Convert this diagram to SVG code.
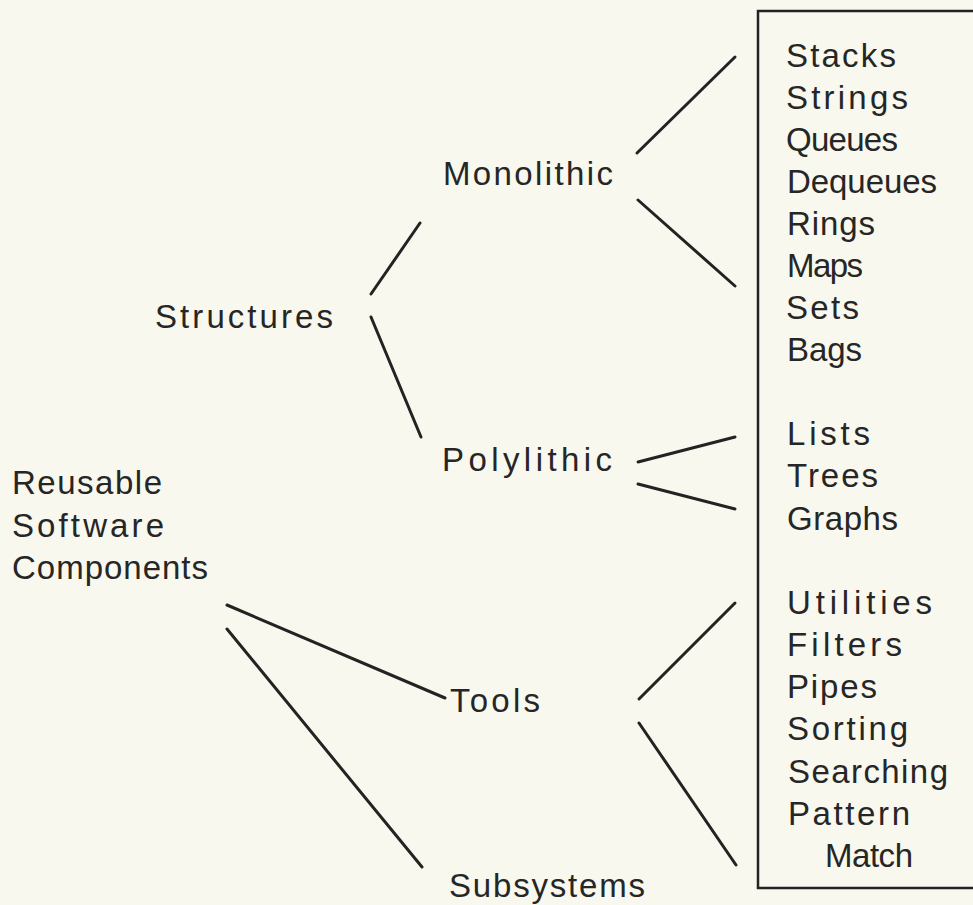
<svg xmlns="http://www.w3.org/2000/svg" width="973" height="905" viewBox="0 0 973 905">
<style>
text{font-family:"Liberation Sans",Arial,Helvetica,sans-serif;font-size:33px;fill:#262626}
.c line{stroke:#232323;stroke-width:3;stroke-linecap:round}
.box{fill:none;stroke:#232323;stroke-width:2.5}
</style>
<rect x="0" y="0" width="973" height="905" fill="#f8f8ee"/>
<g id="root"><text x="12" y="494" textLength="150" lengthAdjust="spacing">Reusable</text><text x="12" y="537" textLength="152" lengthAdjust="spacing">Software</text><text x="12" y="579" textLength="196" lengthAdjust="spacing">Components</text></g>
<g id="structures"><text x="155" y="328" textLength="178" lengthAdjust="spacing">Structures</text></g>
<g id="monolithic"><text x="443" y="185" textLength="170" lengthAdjust="spacing">Monolithic</text></g>
<g id="polylithic"><text x="442" y="471" textLength="170" lengthAdjust="spacing">Polylithic</text></g>
<g id="tools"><text x="450" y="712" textLength="90" lengthAdjust="spacing">Tools</text></g>
<g id="subsystems"><text x="449" y="897" textLength="196" lengthAdjust="spacing">Subsystems</text></g>
<g id="list">
<rect class="box" x="758" y="11" width="240" height="877"/>
<text x="786" y="67" textLength="110" lengthAdjust="spacing">Stacks</text>
<text x="786" y="109" textLength="122" lengthAdjust="spacing">Strings</text>
<text x="786" y="151" textLength="112" lengthAdjust="spacing">Queues</text>
<text x="787" y="193" textLength="150" lengthAdjust="spacing">Dequeues</text>
<text x="787" y="235" textLength="88" lengthAdjust="spacing">Rings</text>
<text x="787" y="277" textLength="76" lengthAdjust="spacing">Maps</text>
<text x="786" y="319" textLength="73" lengthAdjust="spacing">Sets</text>
<text x="787" y="361" textLength="75" lengthAdjust="spacing">Bags</text>
<text x="787" y="445" textLength="83" lengthAdjust="spacing">Lists</text>
<text x="787" y="487" textLength="91" lengthAdjust="spacing">Trees</text>
<text x="787" y="530" textLength="111" lengthAdjust="spacing">Graphs</text>
<text x="787" y="614" textLength="145" lengthAdjust="spacing">Utilities</text>
<text x="787" y="656" textLength="115" lengthAdjust="spacing">Filters</text>
<text x="787" y="698" textLength="90" lengthAdjust="spacing">Pipes</text>
<text x="787" y="740" textLength="121" lengthAdjust="spacing">Sorting</text>
<text x="788" y="783" textLength="160" lengthAdjust="spacing">Searching</text>
<text x="788" y="825" textLength="122" lengthAdjust="spacing">Pattern</text>
<text x="825" y="867" textLength="88" lengthAdjust="spacing">Match</text>
</g>
<g id="connectors" class="c">
<line x1="371" y1="294" x2="420" y2="223"/>
<line x1="371" y1="317" x2="421" y2="437"/>
<line x1="637" y1="153" x2="735" y2="57"/>
<line x1="638" y1="200" x2="735" y2="286"/>
<line x1="638" y1="462" x2="735" y2="437"/>
<line x1="638" y1="484" x2="735" y2="509"/>
<line x1="639" y1="699" x2="735" y2="603"/>
<line x1="639" y1="723" x2="736" y2="865"/>
<line x1="227" y1="605" x2="445" y2="698"/>
<line x1="227" y1="629" x2="422" y2="867"/>
</g>
</svg>
